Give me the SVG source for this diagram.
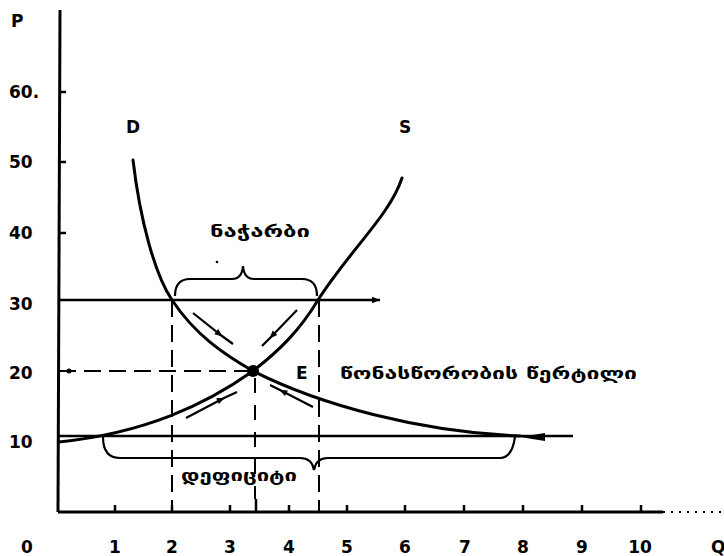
<svg xmlns="http://www.w3.org/2000/svg" width="724" height="556" viewBox="0 0 724 556">
<defs>
<style>
.num{font-family:"DejaVu Sans","Liberation Sans",sans-serif;font-weight:bold;font-size:17px;fill:#000}
.geo{font-family:"DejaVu Sans","Noto Sans",sans-serif;font-weight:bold;font-size:16px;fill:#000}
.axis{stroke:#000;stroke-width:3;fill:none}
.curve{stroke:#000;stroke-width:3;fill:none;stroke-linecap:round}
.line{stroke:#000;stroke-width:2.5;fill:none}
.dash{stroke:#000;stroke-width:2;fill:none;stroke-dasharray:17 8}
.thin{stroke:#000;stroke-width:2.2;fill:none}
</style>
<marker id="ah" viewBox="0 0 10 10" refX="9" refY="5" markerWidth="12" markerHeight="8" markerUnits="userSpaceOnUse" orient="auto">
<path d="M0,1 L10,5 L0,9 z" fill="#000"/>
</marker>
<marker id="ahBig" viewBox="0 0 10 10" refX="10" refY="5" markerWidth="12" markerHeight="8" markerUnits="userSpaceOnUse" orient="auto">
<path d="M0,1 L10,5 L0,9 z" fill="#000"/>
</marker>
</defs>
<rect width="724" height="556" fill="#fff"/>

<g id="axes">
<path class="axis" d="M60,10 L58,512"/>
<path class="axis" d="M58,512 L663,512"/>
<path d="M663,512 L722,512" stroke="#000" stroke-width="2" stroke-dasharray="2 6"/>
<g stroke="#000" stroke-width="2.5">
<path d="M59,92 H66 M59,162 H66 M59,233 H66"/>
<path d="M115,512 V505 M172,512 V505 M230,512 V505 M289,512 V505 M347,512 V505 M405,512 V505 M464,512 V505 M523,512 V505 M582,512 V505 M641,512 V505"/>
<path d="M256,512 V499"/>
</g>
<text class="num" x="11" y="27">P</text>
<text class="num" x="9" y="98">60.</text>
<text class="num" x="9" y="168">50</text>
<text class="num" x="9" y="239">40</text>
<text class="num" x="9" y="310">30</text>
<text class="num" x="9" y="379">20</text>
<text class="num" x="9" y="448">10</text>
<g text-anchor="middle">
<text class="num" x="27" y="553">0</text>
<text class="num" x="115" y="553">1</text>
<text class="num" x="172" y="553">2</text>
<text class="num" x="230" y="553">3</text>
<text class="num" x="289" y="553">4</text>
<text class="num" x="347" y="553">5</text>
<text class="num" x="405" y="553">6</text>
<text class="num" x="465" y="553">7</text>
<text class="num" x="523" y="553">8</text>
<text class="num" x="582" y="553">9</text>
<text class="num" x="640" y="553">10</text>
</g>
<text class="num" x="711" y="553">Q</text>
</g>

<g id="connectors">
<path class="line" d="M59,300 L380,300" marker-end="url(#ahBig)"/>
<path class="line" d="M59,436 L573,436"/>
<path class="dash" d="M59,371 L248,371"/>
<circle cx="69" cy="371" r="2.5" fill="#000"/>
<path class="dash" d="M172,300 L172,512"/>
<path class="dash" d="M319,300 L319,512"/>
<path stroke="#000" stroke-width="2" stroke-dasharray="15 12" d="M255,378 L255,499"/>
<path class="thin" d="M193,313 L222,336 L233,344" marker-mid="url(#ah)"/>
<path class="thin" d="M297,310 L270,338 L262,346" marker-mid="url(#ah)"/>
<path class="thin" d="M186,418 L224,398 L237,392" marker-mid="url(#ah)"/>
<path class="thin" d="M313,407 L280,390 L270,385" marker-mid="url(#ah)"/>
<path d="M545,433 L520,437 L545,441 z" fill="#000"/>
</g>

<g id="curve-D">
<path class="curve" d="M133,160 C140,220 155,275 172,300 C195,335 225,355 253,371 C320,405 420,432 520,436"/>
<text class="num" x="126" y="133">D</text>
</g>

<g id="curve-S">
<path class="curve" d="M59,442 C145,433 205,405 253,371 C280,350 300,330 318,300 C350,250 390,215 402,178"/>
<text class="num" x="399" y="133">S</text>
</g>

<g id="point-E">
<circle cx="253" cy="371" r="6" fill="#000"/>
<text class="num" x="296" y="379">E</text>
</g>

<g id="surplus">
<path class="thin" d="M175,296 Q175,279 190,279 L232,279 Q242,279 243,266 Q244,279 254,279 L302,279 Q317,279 317,296"/>
<circle cx="217" cy="262" r="1.3" fill="#000"/>
<text class="geo" x="210" y="237" textLength="100" lengthAdjust="spacingAndGlyphs">ნაჭარბი</text>
</g>

<g id="equilibrium-label">
<text class="geo" x="340" y="379" textLength="297" lengthAdjust="spacingAndGlyphs">წონასწორობის  წერტილი</text>
</g>

<g id="deficit">
<path class="thin" d="M103,437 Q103,458 120,458 L300,458 Q312,458 314,470 Q316,458 328,458 L500,458 Q512,458 515,437"/>
<text class="geo" x="181" y="481" textLength="116" lengthAdjust="spacingAndGlyphs">დეფიციტი</text>
</g>
</svg>
